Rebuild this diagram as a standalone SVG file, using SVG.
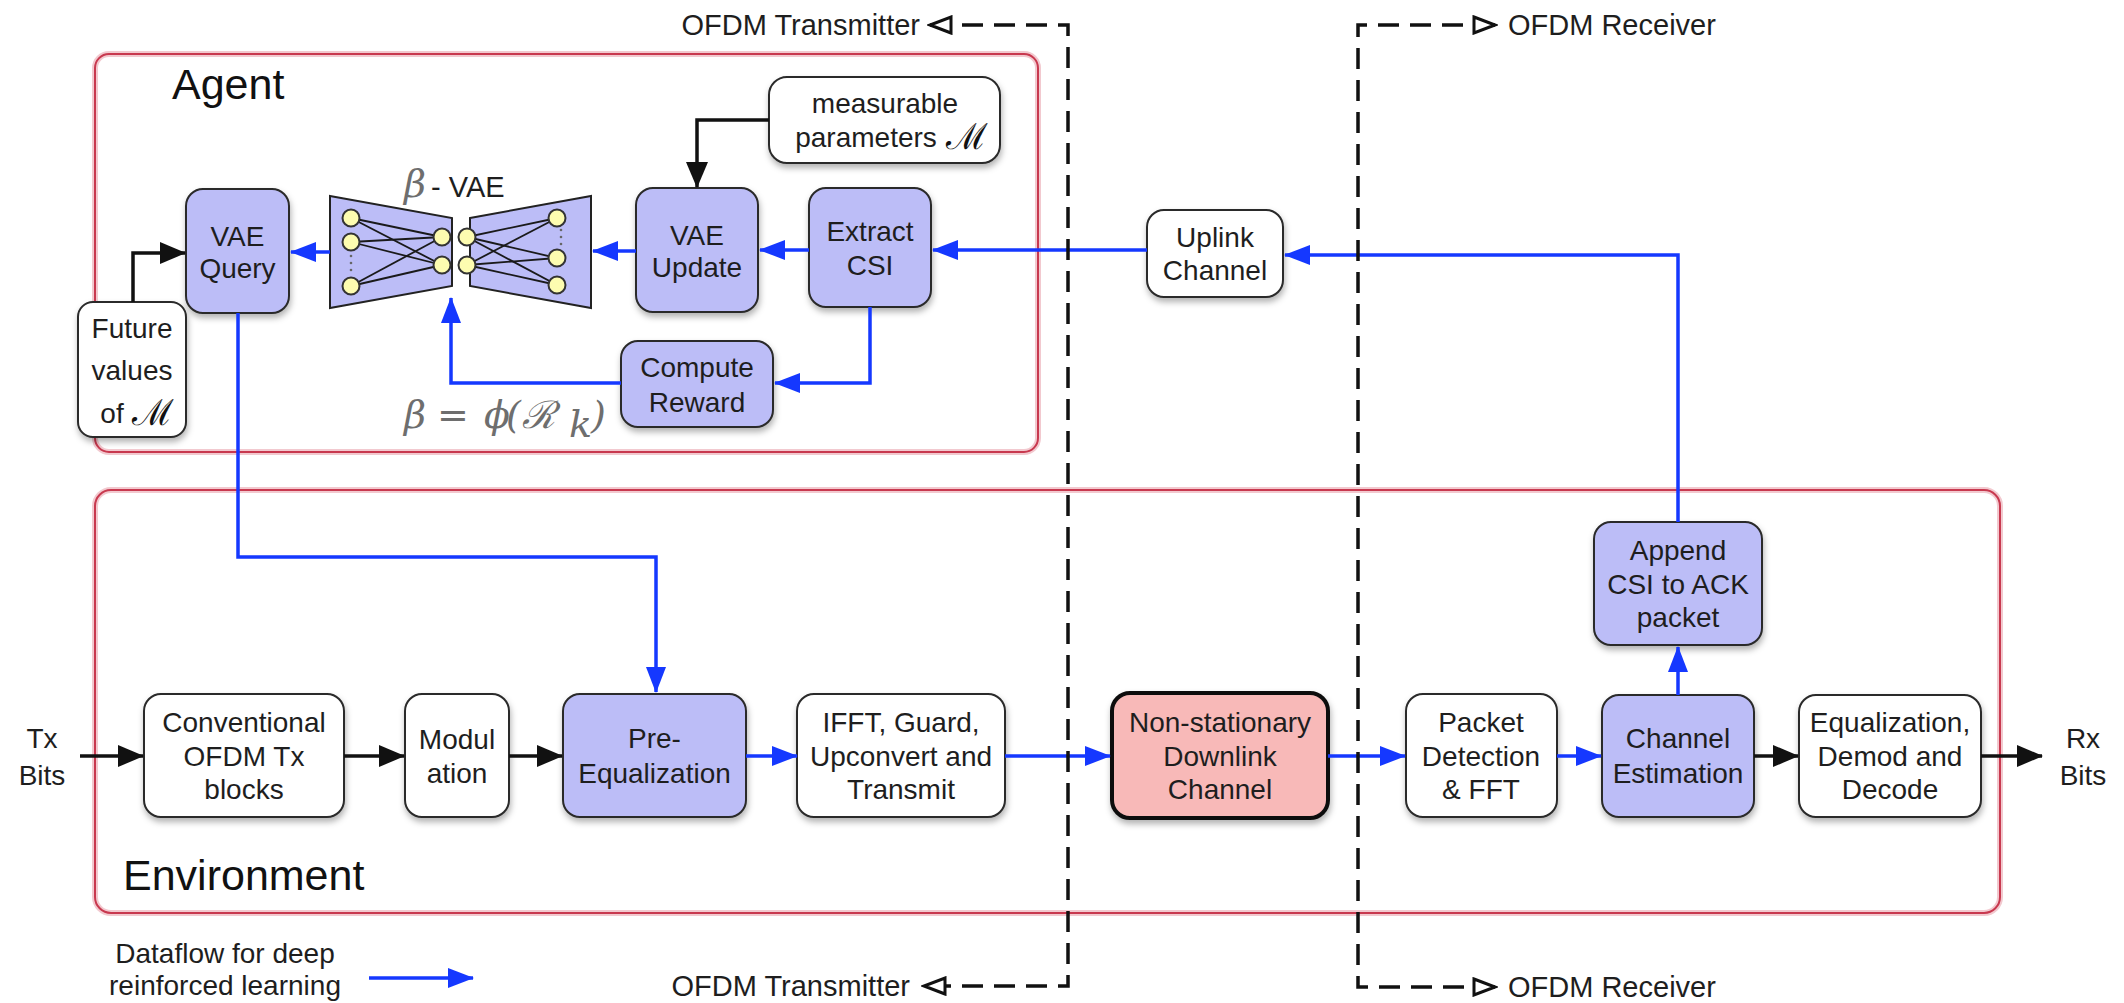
<svg xmlns="http://www.w3.org/2000/svg" width="2124" height="1003" viewBox="0 0 2124 1003">
  <style>
    .lbl { font-family: "Liberation Sans", Arial, Helvetica, sans-serif; font-size: 28px; fill: #1e1e1e; text-anchor: middle; }
    .big { font-family: "Liberation Sans", Arial, Helvetica, sans-serif; font-size: 43px; fill: #111; }
    .side { font-family: "Liberation Sans", Arial, Helvetica, sans-serif; font-size: 29px; fill: #1e1e1e; }
    .math { font-family: "DejaVu Serif", "Liberation Serif", serif; font-size: 38px; fill: #6e6e6e; font-style: italic; }
    .cal { font-family: "DejaVu Serif", "Liberation Serif", serif; fill: #111; }
    .box { fill: #ffffff; stroke: #2a2a2a; stroke-width: 2; filter: url(#shadow); }
    .rl { fill: #bcbdf7; stroke: #2a2a2a; stroke-width: 2; filter: url(#shadow); }
    .hot { fill: #f8b9b8; stroke: #111; stroke-width: 4; filter: url(#shadow); }
    .region { fill: none; stroke: #c8394f; stroke-width: 2; }
    .halo { fill: none; stroke: #f2c9cf; stroke-width: 6; }
    .blue { fill: none; stroke: #1538ff; stroke-width: 3.5; marker-end: url(#ah-blue); }
    .black { fill: none; stroke: #111; stroke-width: 3.5; marker-end: url(#ah-black); }
    .dash { fill: none; stroke: #111; stroke-width: 3.5; stroke-dasharray: 21 11; marker-start: url(#ah-open); marker-end: url(#ah-open); }
    .trap { fill: #bcbdf7; stroke: #222; stroke-width: 2; }
    .wire { stroke: #1a1a1a; stroke-width: 1.8; }
    .unit { fill: #fdfcb0; stroke: #333; stroke-width: 2; }
  </style>
  <defs>
    <filter id="shadow" x="-10%" y="-10%" width="125%" height="130%">
      <feDropShadow dx="1" dy="4" stdDeviation="3" flood-color="#000" flood-opacity="0.3"/>
    </filter>
    <marker id="ah-blue" markerUnits="userSpaceOnUse" markerWidth="26" markerHeight="20" refX="25" refY="10" orient="auto">
      <path d="M0,0 L26,10 L0,20 z" fill="#1538ff"/>
    </marker>
    <marker id="ah-black" markerUnits="userSpaceOnUse" markerWidth="26" markerHeight="22" refX="25" refY="11" orient="auto">
      <path d="M0,0 L26,11 L0,22 z" fill="#111"/>
    </marker>
    <marker id="ah-open" markerUnits="userSpaceOnUse" markerWidth="26" markerHeight="20" refX="23" refY="10" orient="auto-start-reverse">
      <path d="M2,2 L23,10 L2,18 z" fill="#fff" stroke="#111" stroke-width="3" stroke-linejoin="miter"/>
    </marker>
  </defs>

  <rect width="2124" height="1003" fill="#ffffff"/>

  <!-- Regions -->
  <g id="agent-region">
    <rect class="halo" x="95" y="54" width="943" height="398" rx="14"/>
    <rect class="region" x="95" y="54" width="943" height="398" rx="14"/>
    <text class="big" x="172" y="99">Agent</text>
  </g>
  <g id="environment-region">
    <rect class="halo" x="95" y="490" width="1905" height="423" rx="16"/>
    <rect class="region" x="95" y="490" width="1905" height="423" rx="16"/>
    <text class="big" x="123" y="890">Environment</text>
  </g>

  <!-- Nodes -->
  <g id="measurable-params">
    <rect class="box" x="769" y="77" width="231" height="86" rx="18"/>
    <text class="lbl" x="885" y="113">measurable</text>
    <text class="lbl" x="866" y="147">parameters</text>
    <text class="cal" x="946" y="149" font-size="36">ℳ</text>
  </g>
  <g id="vae-query">
    <rect class="rl" x="186" y="189" width="103" height="124" rx="17"/>
    <text class="lbl" x="237.5" y="246">VAE</text>
    <text class="lbl" x="237.5" y="278">Query</text>
  </g>
  <g id="future-values">
    <rect class="box" x="78" y="302" width="108" height="135" rx="15"/>
    <text class="lbl" x="132" y="338">Future</text>
    <text class="lbl" x="132" y="380">values</text>
    <text class="lbl" x="112" y="423">of</text>
    <text class="cal" x="132" y="425" font-size="36">ℳ</text>
  </g>
  <g id="beta-vae">
    <polygon class="trap" points="330,196 452,218 452,286 330,308"/>
    <polygon class="trap" points="470,218 591,196 591,308 470,286"/>
    <g class="wire">
      <line x1="351" y1="218" x2="442" y2="237"/>
      <line x1="351" y1="218" x2="442" y2="265"/>
      <line x1="351" y1="242" x2="442" y2="237"/>
      <line x1="351" y1="242" x2="442" y2="265"/>
      <line x1="351" y1="286" x2="442" y2="237"/>
      <line x1="351" y1="286" x2="442" y2="265"/>
      <line x1="467" y1="237" x2="557" y2="218"/>
      <line x1="467" y1="237" x2="557" y2="258"/>
      <line x1="467" y1="237" x2="557" y2="285"/>
      <line x1="467" y1="265" x2="557" y2="218"/>
      <line x1="467" y1="265" x2="557" y2="258"/>
      <line x1="467" y1="265" x2="557" y2="285"/>
    </g>
    <g fill="#666">
      <circle cx="351" cy="256" r="1.3"/>
      <circle cx="351" cy="263" r="1.3"/>
      <circle cx="351" cy="270" r="1.3"/>
      <circle cx="561" cy="230" r="1.3"/>
      <circle cx="561" cy="237" r="1.3"/>
      <circle cx="561" cy="244" r="1.3"/>
    </g>
    <circle class="unit" cx="351" cy="218" r="8.5"/>
    <circle class="unit" cx="351" cy="242" r="8.5"/>
    <circle class="unit" cx="351" cy="286" r="8.5"/>
    <circle class="unit" cx="442" cy="237" r="8.5"/>
    <circle class="unit" cx="442" cy="265" r="8.5"/>
    <circle class="unit" cx="467" cy="237" r="8.5"/>
    <circle class="unit" cx="467" cy="265" r="8.5"/>
    <circle class="unit" cx="557" cy="218" r="8.5"/>
    <circle class="unit" cx="557" cy="258" r="8.5"/>
    <circle class="unit" cx="557" cy="285" r="8.5"/>
    <text class="math" x="404" y="197" font-size="38">β</text>
    <text class="side" x="431" y="197" font-size="27">- VAE</text>
  </g>
  <g id="vae-update">
    <rect class="rl" x="636" y="188" width="122" height="124" rx="17"/>
    <text class="lbl" x="697" y="245">VAE</text>
    <text class="lbl" x="697" y="277">Update</text>
  </g>
  <g id="extract-csi">
    <rect class="rl" x="809" y="188" width="122" height="119" rx="17"/>
    <text class="lbl" x="870" y="241">Extract</text>
    <text class="lbl" x="870" y="275">CSI</text>
  </g>
  <g id="compute-reward">
    <rect class="rl" x="621" y="341" width="152" height="86" rx="17"/>
    <text class="lbl" x="697" y="377">Compute</text>
    <text class="lbl" x="697" y="412">Reward</text>
  </g>
  <g id="reward-formula">
    <text class="math" x="404" y="428">β</text>
    <text class="math" x="437" y="428" font-style="normal" font-size="44">=</text>
    <text class="math" x="484" y="428">ϕ</text>
    <text class="math" x="506" y="428" font-style="normal">(</text>
    <text class="math" x="522" y="428" font-size="44">ℛ</text>
    <text class="math" x="569" y="437" font-size="24">k</text>
    <text class="math" x="591" y="428" font-style="normal">)</text>
  </g>
  <g id="uplink-channel">
    <rect class="box" x="1147" y="210" width="136" height="87" rx="17"/>
    <text class="lbl" x="1215" y="247">Uplink</text>
    <text class="lbl" x="1215" y="280">Channel</text>
  </g>

  <g id="tx-bits">
    <text class="lbl" x="42" y="748" font-size="32">Tx</text>
    <text class="lbl" x="42" y="785" font-size="32">Bits</text>
  </g>
  <g id="conventional-tx">
    <rect class="box" x="144" y="694" width="200" height="123" rx="17"/>
    <text class="lbl" x="244" y="732">Conventional</text>
    <text class="lbl" x="244" y="766">OFDM Tx</text>
    <text class="lbl" x="244" y="799">blocks</text>
  </g>
  <g id="modulation">
    <rect class="box" x="405" y="694" width="104" height="123" rx="17"/>
    <text class="lbl" x="457" y="749">Modul</text>
    <text class="lbl" x="457" y="783">ation</text>
  </g>
  <g id="pre-equalization">
    <rect class="rl" x="563" y="694" width="183" height="123" rx="17"/>
    <text class="lbl" x="654.5" y="748">Pre-</text>
    <text class="lbl" x="654.5" y="783">Equalization</text>
  </g>
  <g id="ifft-transmit">
    <rect class="box" x="797" y="694" width="208" height="123" rx="17"/>
    <text class="lbl" x="901" y="732">IFFT, Guard,</text>
    <text class="lbl" x="901" y="766">Upconvert and</text>
    <text class="lbl" x="901" y="799">Transmit</text>
  </g>
  <g id="downlink-channel">
    <rect class="hot" x="1112" y="693" width="216" height="125" rx="18"/>
    <text class="lbl" x="1220" y="732">Non-stationary</text>
    <text class="lbl" x="1220" y="766">Downlink</text>
    <text class="lbl" x="1220" y="799">Channel</text>
  </g>
  <g id="packet-detection">
    <rect class="box" x="1406" y="694" width="151" height="123" rx="17"/>
    <text class="lbl" x="1481" y="732">Packet</text>
    <text class="lbl" x="1481" y="766">Detection</text>
    <text class="lbl" x="1481" y="799">&amp; FFT</text>
  </g>
  <g id="channel-estimation">
    <rect class="rl" x="1602" y="695" width="152" height="122" rx="17"/>
    <text class="lbl" x="1678" y="748">Channel</text>
    <text class="lbl" x="1678" y="783">Estimation</text>
  </g>
  <g id="append-csi">
    <rect class="rl" x="1594" y="522" width="168" height="123" rx="17"/>
    <text class="lbl" x="1678" y="560">Append</text>
    <text class="lbl" x="1678" y="594">CSI to ACK</text>
    <text class="lbl" x="1678" y="627">packet</text>
  </g>
  <g id="equalization-decode">
    <rect class="box" x="1799" y="695" width="182" height="122" rx="17"/>
    <text class="lbl" x="1890" y="732">Equalization,</text>
    <text class="lbl" x="1890" y="766">Demod and</text>
    <text class="lbl" x="1890" y="799">Decode</text>
  </g>
  <g id="rx-bits">
    <text class="lbl" x="2083" y="748" font-size="32">Rx</text>
    <text class="lbl" x="2083" y="785" font-size="32">Bits</text>
  </g>

  <!-- Connectors -->
  <g id="connectors">
    <!-- reinforcement-learning dataflow -->
    <path class="blue" d="M1147,250 H933"/>
    <path class="blue" d="M809,250 H760"/>
    <path class="blue" d="M636,251 H593"/>
    <path class="blue" d="M330,252 H291"/>
    <path class="blue" d="M870,307 V383 H775"/>
    <path class="blue" d="M621,383 H451 V298"/>
    <path class="blue" d="M238,313 V557 H656 V692"/>
    <path class="blue" d="M746,756 H797"/>
    <path class="blue" d="M1005,756 H1110"/>
    <path class="blue" d="M1328,756 H1405"/>
    <path class="blue" d="M1557,756 H1601"/>
    <path class="blue" d="M1678,695 V647"/>
    <path class="blue" d="M1678,522 V255 H1285"/>
    <!-- conventional signal path -->
    <path class="black" d="M80,756 H143"/>
    <path class="black" d="M344,756 H404"/>
    <path class="black" d="M509,756 H562"/>
    <path class="black" d="M1754,756 H1798"/>
    <path class="black" d="M1981,756 H2042"/>
    <path class="black" d="M769,120 H697 V187"/>
    <path class="black" d="M133,302 V253 H185"/>
    <!-- transmitter / receiver boundaries -->
    <path class="dash" d="M930,25 H1068 V986 H924"/>
    <path class="dash" d="M1495,25 H1358 V987 H1495"/>
  </g>

  <!-- Boundary labels -->
  <g id="boundary-labels">
    <text class="side" x="920" y="35" text-anchor="end">OFDM Transmitter</text>
    <text class="side" x="1508" y="35">OFDM Receiver</text>
    <text class="side" x="910" y="996" text-anchor="end">OFDM Transmitter</text>
    <text class="side" x="1508" y="997">OFDM Receiver</text>
  </g>

  <!-- Legend -->
  <g id="legend">
    <text class="lbl" x="225" y="963">Dataflow for deep</text>
    <text class="lbl" x="225" y="995">reinforced learning</text>
    <path class="blue" d="M369,978 H473"/>
  </g>
</svg>
